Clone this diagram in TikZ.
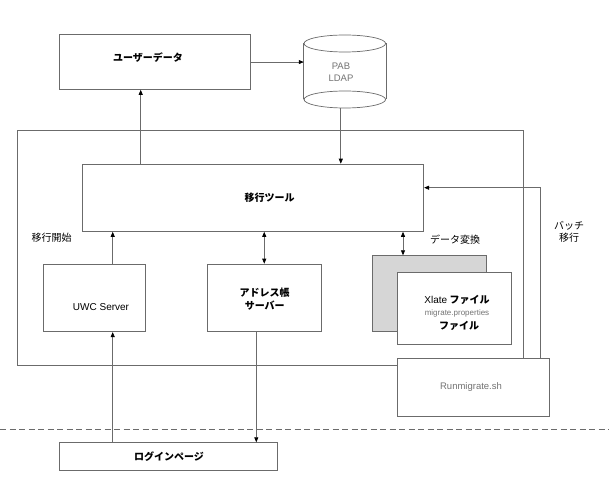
\documentclass[tikz,border=0pt]{standalone}
\usepackage{fontspec}
\setmainfont{Liberation Sans}
\newfontfamily\jp{Noto Sans CJK JP}
\usetikzlibrary{arrows.meta,calc}
\definecolor{lg}{gray}{0.42}
\definecolor{tg}{gray}{0.45}
\definecolor{backfill}{gray}{0.84}
\begin{document}
\begin{tikzpicture}[x=1pt,y=-1pt,
  box/.style={draw=lg, line width=0.8pt, fill=white, inner sep=0pt, anchor=north west},
  jpb/.style={font=\jp\bfseries\fontsize{10}{12.5}\selectfont, align=center, inner sep=0pt},
  jpr/.style={font=\jp\fontsize{10}{12.5}\selectfont, align=center, inner sep=0pt},
  lat/.style={font=\fontsize{9}{11}\selectfont, text=tg, align=center, inner sep=0pt},
  conn/.style={draw=lg, line width=0.7pt},
  arr/.style={conn, -{Triangle[length=5pt,width=4pt,fill=black,color=black]}},
  arrb/.style={conn, {Triangle[length=5pt,width=4pt,fill=black,color=black]}-{Triangle[length=5pt,width=4pt,fill=black,color=black]}}
]
\useasboundingbox (0,0) rectangle (609,497);

% outer frame
\node[box, fill=none, minimum width=506pt, minimum height=234.7pt] (frame) at (17.3,130) {};

% user data
\node[box, minimum width=191pt, minimum height=54.7pt] (ud) at (58.7,34.3) {};
\node[jpb] (udt) at (148,58) {ユーザーデータ};

% cylinder PAB LDAP
\node[minimum width=81.7pt, minimum height=73pt, inner sep=0pt] (pab) at (344.8,71.5) {};
\draw[lg, line width=0.7pt, fill=white] (344.8,99.5) ellipse [x radius=40.8, y radius=8.5];
\fill[white] (pab.west |- 0,43.5) rectangle (pab.east |- 0,99.5);
\draw[lg, line width=0.7pt] (pab.west |- 0,43.5) -- (pab.west |- 0,99.5)
      (pab.east |- 0,43.5) -- (pab.east |- 0,99.5);
\draw[lg, line width=0.7pt] (304,99.5) arc[start angle=180, end angle=360, x radius=40.8, y radius=8.5];
\draw[lg, line width=0.7pt, fill=white] (344.8,43.5) ellipse [x radius=40.8, y radius=8.5];
\node[lat, font=\fontsize{9.5}{11.5}\selectfont] (pabt) at (341,72.2) {PAB\\[0.5pt]LDAP};

% migration tool
\node[box, minimum width=341.6pt, minimum height=67.3pt] (tool) at (81.7,163.7) {};
\node[jpb] (toolt) at (269.7,197.5) {移行ツール};

% UWC server
\node[box, minimum width=101.7pt, minimum height=67.6pt] (uwc) at (43.3,263.7) {};
\node[font=\fontsize{10}{12}\selectfont, inner sep=0pt] (uwct) at (101,307.3) {UWC Server};

% address book server
\node[box, minimum width=113.7pt, minimum height=67.6pt] (addr) at (207,263.7) {};
\node[jpb] (addrt) at (264.7,299) {アドレス帳\\サーバー};

% Xlate files (back and front)
\node[box, fill=backfill, minimum width=114pt, minimum height=76pt] (back) at (372.3,255.3) {};
\node[box, minimum width=113.7pt, minimum height=71.7pt] (front) at (397.3,272.3) {};
\node[jpb] (xl1) at (457,300.3) {{\mdseries\fontspec{Liberation Sans}\fontsize{10}{12}\selectfont Xlate} ファイル};
\node[lat, font=\fontsize{8}{10}\selectfont] (xl2) at (457,313.7) {migrate.properties};
\node[jpb] (xl3) at (459,326.3) {ファイル};

% Runmigrate
\node[box, minimum width=151.4pt, minimum height=57.4pt] (run) at (397.3,358.3) {};
\node[lat, font=\fontsize{9.5}{11}\selectfont] (runt) at (471,387.3) {Runmigrate.sh};

% login page
\node[box, minimum width=218.3pt, minimum height=27.7pt] (login) at (58.7,442.3) {};
\node[jpb] (logint) at (169,456.2) {ログインページ};

% labels
\node[jpr] (start) at (51.5,238) {移行開始};
\node[jpr] (conv) at (455,240) {データ変換};
\node[jpr] (batch) at (569,232) {バッチ\\移行};

% dashed separator
\coordinate (d0) at (0,429.7);
\coordinate (d1) at (609,429.7);
\draw[lg, line width=0.7pt, dash pattern=on 6pt off 3.5pt] (d0) -- (d1);

% connectors
\coordinate (a1) at ($(tool.north west)+(59,0)$);
\draw[arr] (a1) -- (a1 |- ud.south);
\draw[arr] (ud.east) -- (ud.east -| pab.west);
\coordinate (p1) at ($(pab.south)+(-4,0)$);
\draw[arr] (p1) -- (p1 |- tool.north);
\coordinate (u1) at ($(uwc.north west)+(69.4,0)$);
\draw[arr] (u1) -- (u1 |- tool.south);
\draw[arrb] (addr.north) -- (addr.north |- tool.south);
\coordinate (x1) at ($(back.north west)+(30.7,0)$);
\draw[arrb] (x1 |- tool.south) -- (x1);
\coordinate (l1) at (u1 |- login.north);
\draw[arr] (l1) -- (u1 |- uwc.south);
\coordinate (a2) at ($(addr.south west)+(49.3,0)$);
\draw[arr] (a2) -- (a2 |- login.north);
\coordinate (r1) at ($(run.north west)+(142.7,0)$);
\coordinate (t1) at ($(tool.north east)+(0,24)$);
\draw[arr] (r1) |- (t1);
\end{tikzpicture}
\end{document}
